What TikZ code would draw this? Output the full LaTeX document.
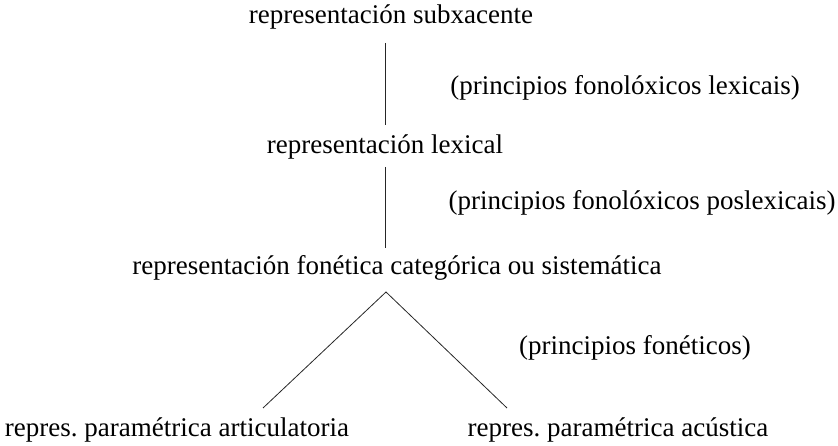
\documentclass[tikz,border=0pt]{standalone}
\usepackage{fontspec}
\setmainfont{Liberation Serif}
\usepackage{tikz}
\usetikzlibrary{positioning,calc}

\begin{document}
\frenchspacing
\begin{tikzpicture}[x=1pt,y=-1pt,
lvl/.style={inner sep=0pt, font=\fontsize{27}{31}\selectfont},
rule/.style={inner sep=0pt, font=\fontsize{27}{31}\selectfont},
branch/.style={line width=0.8pt, draw=black!85}
]
\useasboundingbox (0,0) rectangle (838,446);

% levels
\node[lvl] (sub) at (391,17)  {representación subxacente};
\node[lvl] (lex) at (385,147) {representación lexical};
\node[lvl] (fon) at (397,268) {representación fonética categórica ou sistemática};
\node[lvl] (art) at (177,430) {repres. paramétrica articulatoria};
\node[lvl] (acu) at (618,430) {repres. paramétrica acústica};

% principles
\node[rule] (p1) at (625,88)  {(principios fonolóxicos lexicais)};
\node[rule] (p2) at (642,203) {(principios fonolóxicos poslexicais)};
\node[rule] (p3) at (635,348) {(principios fonéticos)};

% connectors
\coordinate (s1) at (385,43);
\coordinate (l1) at (385,125);
\coordinate (l2) at (385,167);
\coordinate (f1) at (385,248);
\coordinate (apex) at (386,292);
\coordinate (aL) at (263,408);
\coordinate (aR) at (507,408);

\draw[branch] (s1) -- (l1);
\draw[branch] (l2) -- (f1);
\draw[branch] (aL) -- (apex) -- (aR);

\end{tikzpicture}
\end{document}
